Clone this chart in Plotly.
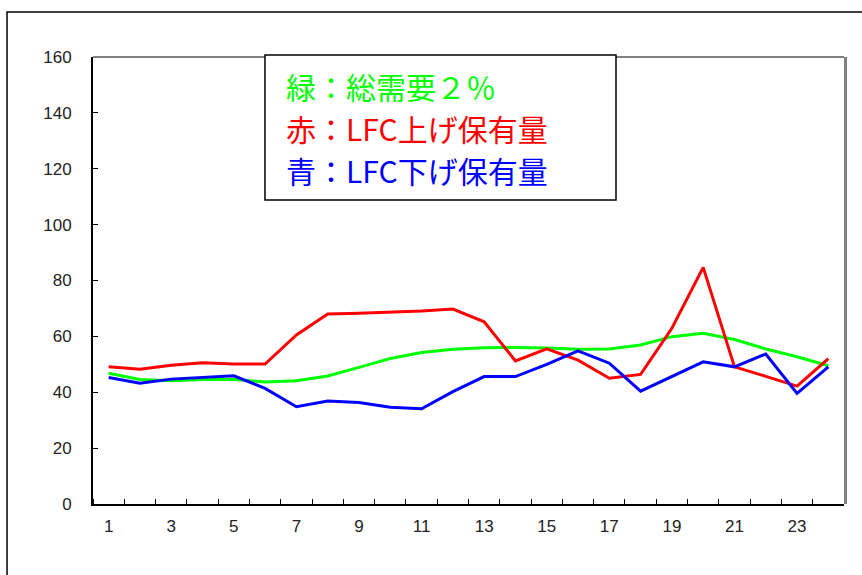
import plotly.graph_objects as go

# Hourly series (1..24)
hours = list(range(1, 25))
total_demand_2pct = [46.8, 44.6, 44.1, 44.6, 44.6, 43.7, 44.1, 45.8, 48.9, 52.1, 54.2, 55.4,
                     55.9, 56.0, 55.8, 55.4, 55.5, 56.9, 59.9, 61.1, 58.9, 55.5, 52.7, 49.5]
lfc_up = [49.1, 48.2, 49.7, 50.6, 50.1, 50.1, 60.5, 68.0, 68.3, 68.7, 69.1, 69.8,
          65.2, 51.2, 55.5, 51.5, 45.0, 46.4, 62.9, 84.7, 49.1, 45.7, 42.2, 52.0]
lfc_down = [45.3, 43.2, 44.7, 45.3, 45.9, 41.4, 34.8, 36.9, 36.3, 34.6, 34.1, 40.2,
            45.6, 45.6, 50.0, 54.8, 50.4, 40.4, 45.6, 50.9, 49.1, 53.7, 39.6, 49.1]

x_ticks = [1, 3, 5, 7, 9, 11, 13, 15, 17, 19, 21, 23]
y_ticks = [0, 20, 40, 60, 80, 100, 120, 140, 160]

legend_lines = [
    ("緑：総需要２％", "#00FF00"),
    ("赤：LFC上げ保有量", "#FF0000"),
    ("青：LFC下げ保有量", "#0000FF"),
]

fig = go.Figure()
for ys, col in [(total_demand_2pct, "#00FF00"), (lfc_up, "#FF0000"), (lfc_down, "#0000FF")]:
    fig.add_trace(go.Scatter(x=hours, y=ys, mode="lines",
                             line=dict(color=col, width=3), showlegend=False))

tick_font = dict(family="Liberation Sans Narrow, Liberation Sans, Arial", size=17, color="#222222")

fig.update_xaxes(
    range=[0.5, 24.5], tickvals=x_ticks, ticktext=[str(v) for v in x_ticks],
    ticks="", showgrid=False, zeroline=False,
    showline=True, linecolor="#000000", linewidth=2,
    minor=dict(ticks="inside", tick0=0.5, dtick=1, ticklen=5, tickcolor="#000000", tickwidth=1),
    tickfont=tick_font, ticklabelstandoff=6,
)
fig.update_yaxes(
    range=[0, 160], tickvals=y_ticks, ticks="inside", ticklen=5, tickcolor="#000000",
    showgrid=False, zeroline=False,
    showline=True, linecolor="#000000", linewidth=2,
    tickfont=tick_font, ticklabelstandoff=16,
)

shapes = [
    # outer chart frame
    dict(type="rect", xref="paper", yref="paper", x0=-0.1145, x1=1.2, y0=-0.3, y1=1.1007,
         line=dict(color="#000000", width=1.5), layer="below"),
    # plot-area border (top / right)
    dict(type="line", xref="paper", yref="paper", x0=0, x1=1, y0=1, y1=1,
         line=dict(color="#808080", width=2)),
    dict(type="line", xref="paper", yref="paper", x0=1.002, x1=1.002, y0=0, y1=1,
         line=dict(color="#808080", width=3)),
    # text box
    dict(type="rect", xref="paper", yref="paper", x0=0.229, x1=0.6964, y0=0.680, y1=1.0045,
         line=dict(color="#000000", width=1.5), fillcolor="#FFFFFF"),
]

# one annotation per line of the text box, 42 px apart
annotations = []
for (txt, col), yc in zip(legend_lines, [0.9351, 0.8412, 0.7472]):
    annotations.append(dict(
        text=txt, xref="paper", yref="paper", x=0.2543, y=yc,
        xanchor="left", yanchor="middle", showarrow=False,
        font=dict(family="Noto Sans CJK JP", size=30, color=col),
    ))

fig.update_layout(
    width=862, height=575,
    margin=dict(l=93, r=18, t=57, b=71),
    paper_bgcolor="#FFFFFF", plot_bgcolor="#FFFFFF",
    shapes=shapes, annotations=annotations,
    showlegend=False,
)

fig.write_html("out.html")
